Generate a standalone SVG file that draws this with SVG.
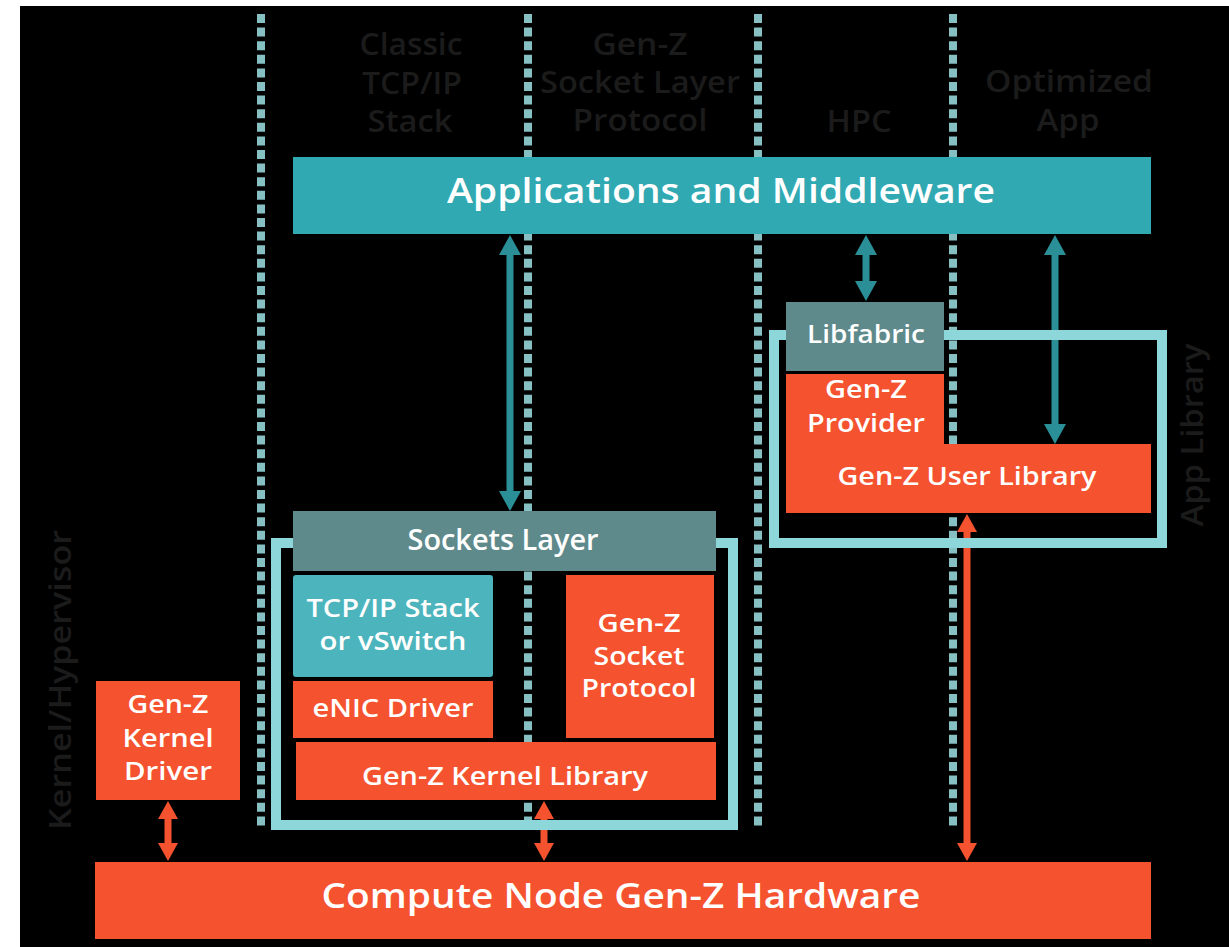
<svg xmlns="http://www.w3.org/2000/svg" width="1229" height="947" viewBox="0 0 1229 947">
<style>
.lane{stroke:#86c0c3;stroke-width:8;stroke-dasharray:9 4.6;fill:none}
.frame{fill:none;stroke:#8dd6da;stroke-width:10}
.org{fill:#f5522f}
.teal{fill:#31a9b3}
.lteal{fill:#4cb4bc}
.grey{fill:#5e8a8b}
.lbl{font-family:"Open Sans","Liberation Sans",sans-serif;font-weight:600;fill:#ffffff;text-anchor:middle}
.hdr{font-family:"Open Sans","Liberation Sans",sans-serif;font-weight:600;fill:#1b1b1b;text-anchor:middle;font-size:30px}
.ct{stroke:#2a8f97;stroke-width:7;fill:none}
.co{stroke:#f5522f;stroke-width:7;fill:none}
</style>
<defs>
<marker id="ahT" markerUnits="userSpaceOnUse" viewBox="0 0 20 22" markerWidth="20" markerHeight="22" refX="10" refY="11" orient="auto-start-reverse"><path d="M0,0 L20,11 L0,22 z" fill="#2a8f97"/></marker>
<marker id="ahO" markerUnits="userSpaceOnUse" viewBox="0 0 18 20" markerWidth="18" markerHeight="20" refX="9" refY="10" orient="auto-start-reverse"><path d="M0,0 L18,10 L0,20 z" fill="#f5522f"/></marker>
</defs>
<rect x="0" y="0" width="1229" height="947" fill="#ffffff"/>
<rect x="20" y="6" width="1209" height="941" fill="#000000"/>

<g id="lane-headers">
<text class="hdr" x="411" y="55" textLength="103" lengthAdjust="spacingAndGlyphs">Classic</text>
<text class="hdr" x="412" y="94" textLength="100" lengthAdjust="spacingAndGlyphs">TCP/IP</text>
<text class="hdr" x="410" y="132" textLength="85" lengthAdjust="spacingAndGlyphs">Stack</text>
<text class="hdr" x="640" y="55" textLength="95" lengthAdjust="spacingAndGlyphs">Gen-Z</text>
<text class="hdr" x="640" y="93" textLength="200" lengthAdjust="spacingAndGlyphs">Socket Layer</text>
<text class="hdr" x="640" y="131" textLength="135" lengthAdjust="spacingAndGlyphs">Protocol</text>
<text class="hdr" x="859" y="132" textLength="65" lengthAdjust="spacingAndGlyphs">HPC</text>
<text class="hdr" x="1069" y="92" textLength="168" lengthAdjust="spacingAndGlyphs">Optimized</text>
<text class="hdr" x="1068" y="131" textLength="63" lengthAdjust="spacingAndGlyphs">App</text>
<text class="hdr" x="0" y="0" font-size="34" fill="#202020" textLength="300" lengthAdjust="spacingAndGlyphs" transform="translate(71,680) rotate(-90)">Kernel/Hypervisor</text>
<text class="hdr" x="0" y="0" font-size="30" font-weight="400" fill="#1e1e1e" textLength="183" lengthAdjust="spacingAndGlyphs" transform="translate(1203,435) rotate(-90)">App Library</text>
</g>

<g id="lanes">
<line class="lane" x1="261" y1="14" x2="261" y2="829"/>
<line class="lane" x1="528" y1="14" x2="528" y2="829"/>
<line class="lane" x1="758" y1="14" x2="758" y2="829"/>
<line class="lane" x1="953" y1="14" x2="953" y2="829"/>
</g>

<g id="connectors">
<line class="co" x1="168" y1="810" x2="168" y2="852" marker-start="url(#ahO)" marker-end="url(#ahO)"/>
<line class="co" x1="544" y1="810" x2="544" y2="852" marker-start="url(#ahO)" marker-end="url(#ahO)"/>
<line class="co" x1="967" y1="523" x2="967" y2="852" marker-start="url(#ahO)" marker-end="url(#ahO)"/>
<line class="ct" x1="510" y1="245" x2="510" y2="501" marker-start="url(#ahT)" marker-end="url(#ahT)"/>
<line class="ct" x1="866" y1="245" x2="866" y2="291" marker-start="url(#ahT)" marker-end="url(#ahT)"/>
<line class="ct" x1="1055" y1="245" x2="1055" y2="434" marker-start="url(#ahT)" marker-end="url(#ahT)"/>
</g>

<g id="sockets-frame"><rect class="frame" x="276" y="543" width="457" height="282"/></g>
<g id="app-library-frame"><rect class="frame" x="774" y="335" width="388" height="208"/></g>

<g id="applications">
<rect class="teal" x="293" y="157" width="858" height="77"/>
<text class="lbl" x="721" y="203" font-size="35" textLength="548" lengthAdjust="spacingAndGlyphs">Applications and Middleware</text>
</g>
<g id="sockets-layer">
<rect class="grey" x="293" y="511" width="423" height="60"/>
<text class="lbl" x="503" y="550" font-size="28" textLength="191" lengthAdjust="spacingAndGlyphs">Sockets Layer</text>
</g>
<g id="tcpip-stack">
<rect class="lteal" x="293" y="575" width="200" height="102" rx="3"/>
<text class="lbl" x="393" y="617" font-size="26" textLength="173" lengthAdjust="spacingAndGlyphs">TCP/IP Stack</text>
<text class="lbl" x="393" y="650" font-size="26" textLength="147" lengthAdjust="spacingAndGlyphs">or vSwitch</text>
</g>
<g id="enic-driver">
<rect class="org" x="293" y="681" width="200" height="57"/>
<text class="lbl" x="393" y="717" font-size="26" textLength="161" lengthAdjust="spacingAndGlyphs">eNIC Driver</text>
</g>
<g id="socket-protocol">
<rect class="org" x="566" y="575" width="148" height="163"/>
<text class="lbl" x="639" y="632" font-size="25" textLength="83" lengthAdjust="spacingAndGlyphs">Gen-Z</text>
<text class="lbl" x="639" y="665" font-size="25" textLength="91" lengthAdjust="spacingAndGlyphs">Socket</text>
<text class="lbl" x="639" y="697" font-size="25" textLength="115" lengthAdjust="spacingAndGlyphs">Protocol</text>
</g>
<g id="kernel-library">
<rect class="org" x="296" y="742" width="420" height="58"/>
<text class="lbl" x="505" y="785" font-size="26" textLength="286" lengthAdjust="spacingAndGlyphs">Gen-Z Kernel Library</text>
</g>
<g id="kernel-driver">
<rect class="org" x="96" y="681" width="144" height="119"/>
<text class="lbl" x="168" y="713" font-size="26" textLength="81" lengthAdjust="spacingAndGlyphs">Gen-Z</text>
<text class="lbl" x="168" y="747" font-size="26" textLength="91" lengthAdjust="spacingAndGlyphs">Kernel</text>
<text class="lbl" x="168" y="780" font-size="26" textLength="88" lengthAdjust="spacingAndGlyphs">Driver</text>
</g>
<g id="libfabric">
<rect class="grey" x="786" y="302" width="158" height="69"/>
<text class="lbl" x="866" y="343" font-size="26" textLength="118" lengthAdjust="spacingAndGlyphs">Libfabric</text>
</g>
<g id="genz-provider">
<rect class="org" x="786" y="374" width="158" height="70"/>
<text class="lbl" x="866" y="398" font-size="26" textLength="82" lengthAdjust="spacingAndGlyphs">Gen-Z</text>
<text class="lbl" x="866" y="432" font-size="26" textLength="118" lengthAdjust="spacingAndGlyphs">Provider</text>
</g>
<g id="user-library">
<rect class="org" x="786" y="444" width="365" height="69"/>
<text class="lbl" x="967" y="485" font-size="26" textLength="259" lengthAdjust="spacingAndGlyphs">Gen-Z User Library</text>
</g>
<g id="hardware">
<rect class="org" x="95" y="862" width="1056" height="77"/>
<text class="lbl" x="621" y="908" font-size="35" textLength="599" lengthAdjust="spacingAndGlyphs">Compute Node Gen-Z Hardware</text>
</g>
</svg>
